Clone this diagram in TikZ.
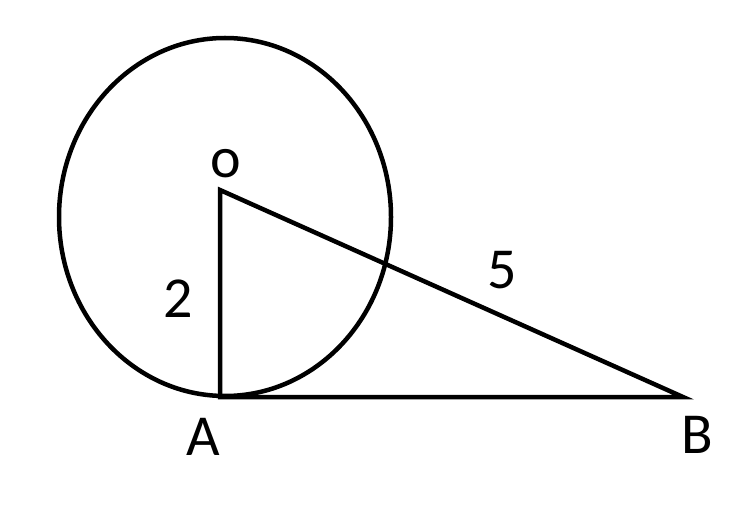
\documentclass[tikz,border=0pt]{standalone}
\usepackage{fontspec}
\setmainfont{Carlito}
\begin{document}
\begin{tikzpicture}[x=1pt,y=-1pt,line width=4.5pt,line join=miter,lbl/.style={inner sep=0pt,font=\fontsize{58}{60}\selectfont}]
    \useasboundingbox (0,0) rectangle (738,529);
    %points
    \coordinate (O) at (220,190);
    \coordinate (A) at (220,397);
    \coordinate (B) at (683,397);
    \coordinate (C) at (225,217);

    %circle
    \draw (C) ellipse [x radius=166, y radius=179];

    %triangle
    \draw (O) -- (A) -- (B) -- cycle;

    %labels
    \node (LO) at (226,164) [lbl]{o};
    \node (L2) at (178,299) [lbl]{2};
    \node (L5) at (502,270) [lbl]{5};
    \node (LA) at (203,437) [lbl]{A};
    \node (LB) at (697,435) [lbl]{B};
\end{tikzpicture}
\end{document}
